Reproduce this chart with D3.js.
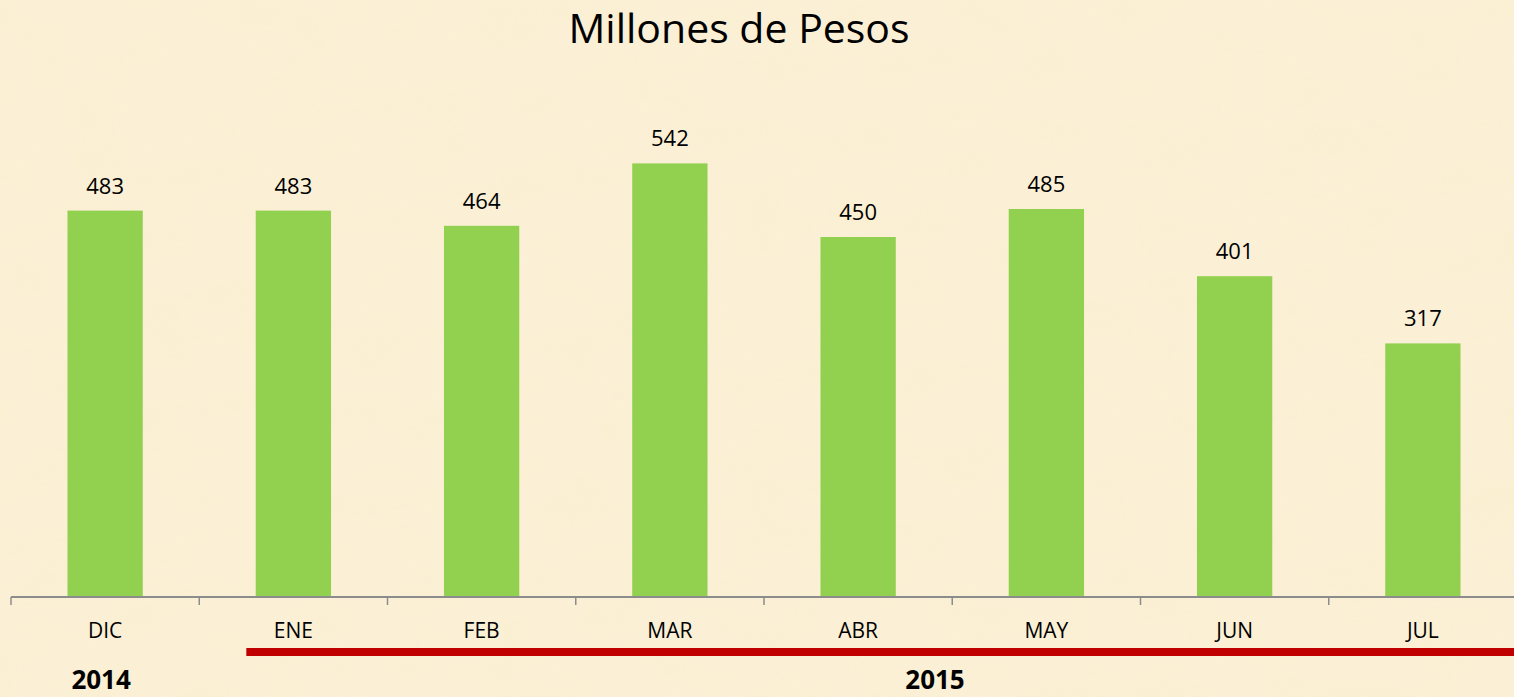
<!DOCTYPE html>
<html>
<head>
<meta charset="utf-8">
<script src="https://cdn.jsdelivr.net/npm/d3@7"></script>
<style>
  body { margin: 0; background: #f9ecce; overflow: hidden; }
  text { font-family: "Open Sans", "Noto Sans", sans-serif; fill: #000; }
</style>
</head>
<body>
<div id="chart"></div>
<script>
var svgWidth = 1514;
var svgHeight = 697;

// data
var months = ["DIC", "ENE", "FEB", "MAR", "ABR", "MAY", "JUN", "JUL"];
var values = [483, 483, 464, 542, 450, 485, 401, 317];
var years = ["2014", "2015"];

var svg = d3.select("#chart")
  .append("svg")
  .attr("width", svgWidth)
  .attr("height", svgHeight);

// parchment-like background
var defs = svg.append("defs");
var filter = defs.append("filter").attr("id", "paper");
filter.append("feTurbulence")
  .attr("type", "fractalNoise")
  .attr("baseFrequency", "0.015 0.025")
  .attr("numOctaves", 4)
  .attr("seed", 7);
filter.append("feColorMatrix")
  .attr("values", "0 0 0 0 0.95  0 0 0 0 0.86  0 0 0 0 0.6  0 0 0 -1.6 0.95");

svg.append("rect")
  .attr("width", svgWidth).attr("height", svgHeight)
  .attr("fill", "#fbf0d6");
svg.append("rect")
  .attr("width", svgWidth).attr("height", svgHeight)
  .attr("filter", "url(#paper)")
  .attr("opacity", 0.55);

// scales
var xScale = d3.scaleBand()
  .domain(months)
  .range([11, 1517]);

var yScale = d3.scaleLinear()
  .domain([0, 600])
  .range([597, 117]);

var barWidth = xScale.bandwidth() * 0.4;

// title
svg.append("text")
  .attr("x", 739)
  .attr("y", 43)
  .attr("text-anchor", "middle")
  .style("font-size", "41px")
  .text("Millones de Pesos");

// bars
svg.selectAll(".bar")
  .data(values)
  .enter()
  .append("rect")
  .attr("class", "bar")
  .attr("x", (d, i) => xScale(months[i]) + xScale.bandwidth() / 2 - barWidth / 2)
  .attr("y", d => yScale(d))
  .attr("width", barWidth)
  .attr("height", d => yScale(0) - yScale(d))
  .attr("fill", "#92d050");

// value labels
svg.selectAll(".val")
  .data(values)
  .enter()
  .append("text")
  .attr("class", "val")
  .attr("x", (d, i) => xScale(months[i]) + xScale.bandwidth() / 2)
  .attr("y", d => yScale(d) - 17)
  .attr("text-anchor", "middle")
  .style("font-size", "22px")
  .text(d => d);

// x axis
var xAxis = svg.append("g")
  .attr("transform", "translate(0, 597)")
  .call(d3.axisBottom(xScale).tickSize(0).tickPadding(26));

xAxis.select(".domain")
  .attr("stroke", "#8c8c8c")
  .attr("stroke-width", 2)
  .attr("d", "M11,0H1517");

xAxis.selectAll(".tick text")
  .style("font-size", "21px")
  .style("font-family", "\"Open Sans\", sans-serif");

// boundary tick marks between categories
var boundaries = months.map(m => xScale(m)).concat([xScale(months[months.length - 1]) + xScale.bandwidth()]);
svg.selectAll(".bound")
  .data(boundaries)
  .enter()
  .append("line")
  .attr("class", "bound")
  .attr("x1", d => d).attr("x2", d => d)
  .attr("y1", 597).attr("y2", 605)
  .attr("stroke", "#8c8c8c")
  .attr("stroke-width", 1.5);

// year bracket line for 2015
svg.append("rect")
  .attr("x", xScale("ENE") + xScale.bandwidth() * 0.25)
  .attr("y", 648)
  .attr("width", 1514 - (xScale("ENE") + xScale.bandwidth() * 0.25))
  .attr("height", 8)
  .attr("fill", "#c00000");

// year labels
svg.selectAll(".year")
  .data(years)
  .enter()
  .append("text")
  .attr("class", "year")
  .attr("x", (d, i) => i === 0 ? xScale("DIC") + xScale.bandwidth() / 2 - 4 : 935)
  .attr("y", 689)
  .attr("text-anchor", "middle")
  .style("font-size", "26px")
  .style("font-weight", "bold")
  .text(d => d);
</script>
</body>
</html>
